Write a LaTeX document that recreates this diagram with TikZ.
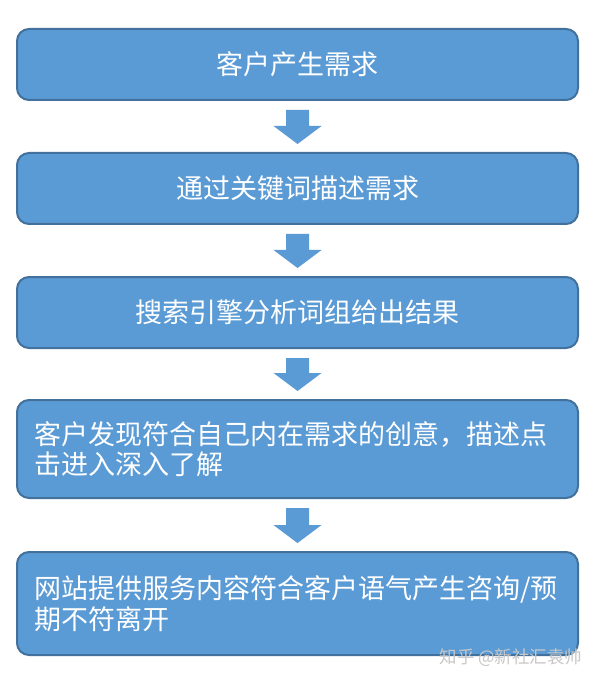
\documentclass[tikz,border=0pt]{standalone}
\usepackage{fontspec}
\newfontfamily\cjk{Noto Sans CJK SC}
\usetikzlibrary{calc}
\definecolor{boxfill}{HTML}{5B9BD5}
\definecolor{boxline}{HTML}{41719C}
\definecolor{wmark}{HTML}{C8C8C8}
\tikzset{
  stepbox/.style={draw=boxline, line width=2pt, fill=boxfill, rounded corners=12pt,
    minimum width=561pt, inner xsep=17pt, inner ysep=0pt, text=white,
    font=\cjk\fontsize{27}{30.5}\selectfont},
  widebox/.style={stepbox, text width=527pt, align=left},
  flowarrow/.style={fill=boxfill, draw=none},
  wmtext/.style={text=wmark, inner sep=0pt, font=\cjk\fontsize{17.5}{20}\selectfont},
}
\newcommand\flowdown[2]{%
  \fill[flowarrow] let \p1=(#1.south), \p2=(#2.north) in
    (\x1-11.5pt,\y1-9pt) -- (\x1+11.5pt,\y1-9pt) -- (\x1+11.5pt,\y2+26pt)
    -- (\x1+24pt,\y2+26pt) -- (\x1,\y2+8pt) -- (\x1-24pt,\y2+26pt)
    -- (\x1-11.5pt,\y2+26pt) -- cycle;}
\begin{document}
\begin{tikzpicture}[x=1pt,y=-1pt]
  \path[use as bounding box, fill=white] (0,0) rectangle (600,684);
  \node[stepbox, minimum height=71pt] (b1) at (297.5,64.5) {客户产生需求};
  \node[stepbox, minimum height=71pt] (b2) at (297.5,188.5) {通过关键词描述需求};
  \node[stepbox, minimum height=71pt] (b3) at (297.5,312.5) {搜索引擎分析词组给出结果};
  \node[widebox, minimum height=98pt] (b4) at (297.5,449) {客户发现符合自己内在需求的创意，描述点\\击进入深入了解};
  \node[widebox, minimum height=103pt] (b5) at (297.5,603.5) {网站提供服务内容符合客户语气产生咨询/预\\期不符离开};
  \flowdown{b1}{b2}
  \flowdown{b2}{b3}
  \flowdown{b3}{b4}
  \flowdown{b4}{b5}
  \node[wmtext] (wm) at (511,658) {知乎 @新社汇袁帅};
\end{tikzpicture}
\end{document}
